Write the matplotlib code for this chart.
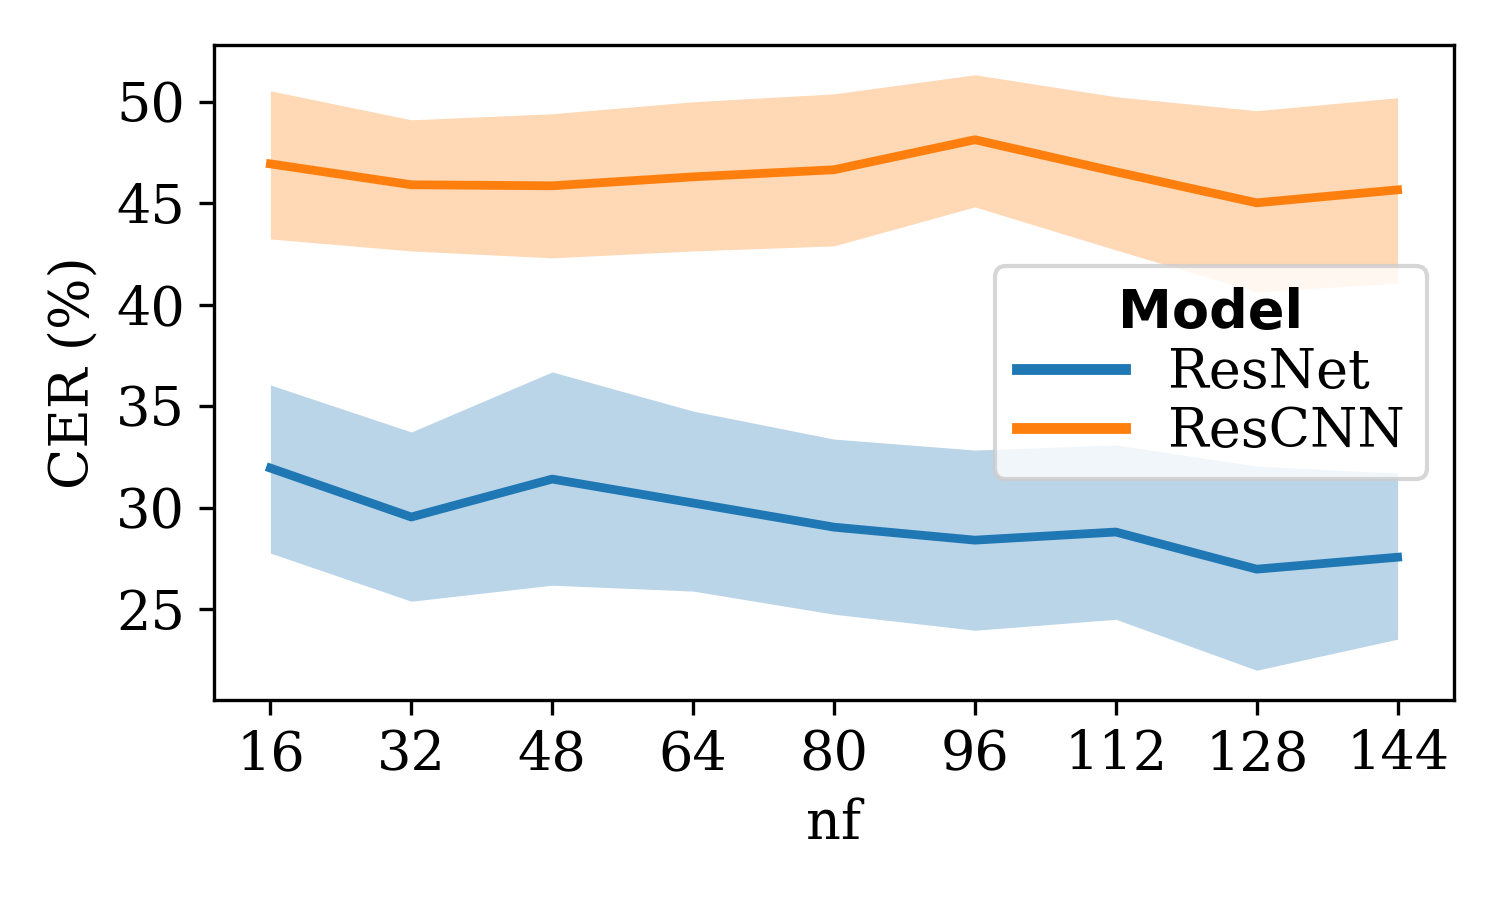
import matplotlib
matplotlib.use("Agg")
import matplotlib.pyplot as plt
import numpy as np

plt.rcParams['font.family'] = ['DejaVu Serif']
plt.rcParams['font.size'] = 13

nf = [16, 32, 48, 64, 80, 96, 112, 128, 144]

resnet_mean = [31.95, 29.54, 31.41, 30.23, 29.04, 28.40, 28.80, 26.97, 27.56]
resnet_upper = [36.05, 33.73, 36.69, 34.76, 33.38, 32.84, 33.09, 32.05, 31.70]
resnet_lower = [27.76, 25.39, 26.18, 25.89, 24.75, 23.96, 24.50, 21.99, 23.52]

rescnn_mean = [46.94, 45.91, 45.86, 46.30, 46.65, 48.13, 46.55, 45.02, 45.66]
rescnn_upper = [50.54, 49.11, 49.41, 50.00, 50.39, 51.33, 50.25, 49.56, 50.20]
rescnn_lower = [43.24, 42.65, 42.31, 42.65, 42.90, 44.82, 42.70, 40.63, 41.07]

fig = plt.figure(figsize=(5, 3), dpi=300)
ax = fig.add_axes([0.1427, 0.2222, 0.9693 - 0.1427, 0.95 - 0.2222])

c1 = '#1f77b4'
c2 = '#ff7f0e'
ax.fill_between(nf, resnet_lower, resnet_upper, color=c1, alpha=0.3, linewidth=0)
ax.plot(nf, resnet_mean, color=c1, lw=2.1, label='ResNet')
ax.fill_between(nf, rescnn_lower, rescnn_upper, color=c2, alpha=0.3, linewidth=0)
ax.plot(nf, rescnn_mean, color=c2, lw=2.1, label='ResCNN')

ax.set_xticks(nf)
ax.set_yticks([25, 30, 35, 40, 45, 50])
ax.set_xlabel('nf')
ax.set_ylabel('CER (%)')

leg = ax.legend(loc='center right', title='Model', labelspacing=0.13,
                title_fontproperties={'weight': 'bold', 'family': 'DejaVu Sans', 'size': 13})
for h in leg.get_lines():
    h.set_linewidth(2.6)

fig.savefig('out.png', dpi=300)
